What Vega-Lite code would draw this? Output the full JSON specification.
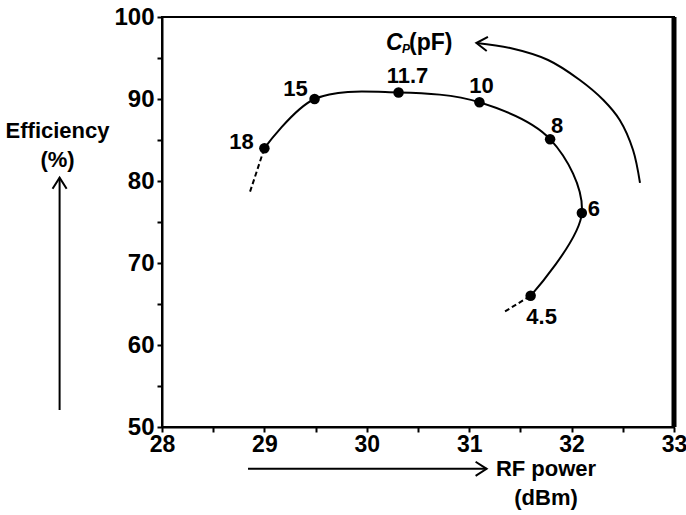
{
  "$schema": "https://vega.github.io/schema/vega-lite/v6.json",
  "width": 512,
  "height": 410,
  "autosize": {"type": "none"},
  "padding": {"left": 162, "top": 17, "right": 12, "bottom": 88},
  "background": "white",
  "config": {
    "view": {"stroke": "black", "strokeWidth": 2},
    "font": "Liberation Sans",
    "axis": {
      "domainColor": "black", "domainWidth": 2, "tickColor": "black", "tickWidth": 2, "tickSize": 5,
      "labelFont": "Liberation Sans", "labelFontWeight": "bold", "labelFontSize": 24, "labelColor": "black",
      "grid": false, "labelOverlap": false, "labelFlush": false
    },
    "text": {"font": "Liberation Sans", "fontWeight": "bold", "fontSize": 22, "color": "black", "baseline": "middle", "align": "center"}
  },
  "datasets": {
    "pts": [
      {"cp": 18, "lab": "18", "ord": 1, "x": 29.0, "y": 84.0},
      {"cp": 15, "lab": "15", "ord": 2, "x": 29.49, "y": 90.0},
      {"cp": 11.7, "lab": "11.7", "ord": 3, "x": 30.31, "y": 90.8},
      {"cp": 10, "lab": "10", "ord": 4, "x": 31.1, "y": 89.6},
      {"cp": 8, "lab": "8", "ord": 5, "x": 31.79, "y": 85.1},
      {"cp": 6, "lab": "6", "ord": 6, "x": 32.1, "y": 76.1},
      {"cp": 4.5, "lab": "4.5", "ord": 7, "x": 31.6, "y": 66.0}
    ],
    "ext": [
      {"seg": "a", "x": 29.0, "y": 84.0},
      {"seg": "a", "x": 28.86, "y": 78.7},
      {"seg": "b", "x": 31.6, "y": 66.0},
      {"seg": "b", "x": 31.35, "y": 64.1}
    ],
    "arc": [
      {"ord": 1, "x": 32.668, "y": 79.76},
      {"ord": 2, "x": 32.6, "y": 83.78},
      {"ord": 3, "x": 32.47, "y": 87.44},
      {"ord": 4, "x": 32.31, "y": 89.88},
      {"ord": 5, "x": 32.08, "y": 92.32},
      {"ord": 6, "x": 31.77, "y": 94.76},
      {"ord": 7, "x": 31.4, "y": 96.22},
      {"ord": 8, "x": 31.07, "y": 96.83}
    ],
    "harrow": [{"x": 28.84, "y": 44.9}, {"x": 31.17, "y": 44.9}],
    "varrow": [{"x": 27.0, "y": 52.07}, {"x": 27.0, "y": 80.4}],
    "notes": [
      {"t": "Efficiency", "x": 26.98, "y": 86.1},
      {"t": "(%)", "x": 26.98, "y": 82.56},
      {"t": "RF power", "x": 31.75, "y": 44.9},
      {"t": "(dBm)", "x": 31.75, "y": 41.3}
    ],
    "cpC": [{"x": 30.1875, "y": 96.83}],
    "cpP": [{"x": 30.344, "y": 96.83}],
    "cppF": [{"x": 30.412, "y": 96.83}],
    "border": [{"x": 33, "y": 50, "y2": 100}]
  },
  "encoding": {
    "x": {"field": "x", "type": "quantitative", "title": null, "scale": {"domain": [28, 33], "nice": false, "zero": false},
      "axis": {"values": [28, 28.5, 29, 29.5, 30, 30.5, 31, 31.5, 32, 32.5, 33], "labelExpr": "datum.value % 1 == 0 ? format(datum.value, 'd') : ''", "labelPadding": 1, "labelFontSize": 23}},
    "y": {"field": "y", "type": "quantitative", "title": null, "scale": {"domain": [50, 100], "nice": false, "zero": false},
      "axis": {"values": [50, 55, 60, 65, 70, 75, 80, 85, 90, 95, 100], "labelExpr": "datum.value % 10 == 0 ? format(datum.value, 'd') : ''", "labelPadding": 3}}
  },
  "layer": [
    {
      "data": {"name": "pts"},
      "mark": {"type": "line", "interpolate": "catmull-rom", "color": "black", "strokeWidth": 2},
      "encoding": {"order": {"field": "ord", "type": "quantitative"}}
    },
    {
      "data": {"name": "ext"},
      "mark": {"type": "line", "color": "black", "strokeWidth": 2, "strokeDash": [5, 3], "clip": false},
      "encoding": {"detail": {"field": "seg"}}
    },
    {
      "data": {"name": "pts"},
      "mark": {"type": "point", "filled": true, "color": "black", "size": 110, "opacity": 1}
    },
    {"data": {"name": "pts"}, "transform": [{"filter": "datum.cp == 18"}], "mark": {"type": "text", "dx": -23, "dy": -6}, "encoding": {"text": {"field": "lab"}}},
    {"data": {"name": "pts"}, "transform": [{"filter": "datum.cp == 15"}], "mark": {"type": "text", "dx": -19, "dy": -10}, "encoding": {"text": {"field": "lab"}}},
    {"data": {"name": "pts"}, "transform": [{"filter": "datum.cp == 11.7"}], "mark": {"type": "text", "dx": 9, "dy": -16}, "encoding": {"text": {"field": "lab"}}},
    {"data": {"name": "pts"}, "transform": [{"filter": "datum.cp == 10"}], "mark": {"type": "text", "dx": 2, "dy": -16}, "encoding": {"text": {"field": "lab"}}},
    {"data": {"name": "pts"}, "transform": [{"filter": "datum.cp == 8"}], "mark": {"type": "text", "dx": 7, "dy": -13}, "encoding": {"text": {"field": "lab"}}},
    {"data": {"name": "pts"}, "transform": [{"filter": "datum.cp == 6"}], "mark": {"type": "text", "dx": 12, "dy": -4}, "encoding": {"text": {"field": "lab"}}},
    {"data": {"name": "pts"}, "transform": [{"filter": "datum.cp == 4.5"}], "mark": {"type": "text", "dx": 11, "dy": 21}, "encoding": {"text": {"field": "lab"}}},
    {
      "data": {"name": "arc"},
      "mark": {"type": "line", "interpolate": "catmull-rom", "color": "black", "strokeWidth": 2},
      "encoding": {"order": {"field": "ord", "type": "quantitative"}}
    },
    {
      "data": {"name": "arc"},
      "transform": [{"filter": "datum.ord == 8"}],
      "mark": {"type": "point", "shape": "M1,-0.64L0,0L1,0.64", "filled": false, "stroke": "black", "strokeWidth": 2, "size": 484, "angle": 5, "opacity": 1}
    },
    {
      "data": {"name": "harrow"},
      "mark": {"type": "line", "color": "black", "strokeWidth": 2, "clip": false}
    },
    {
      "data": {"name": "harrow"},
      "transform": [{"filter": "datum.x > 30"}],
      "mark": {"type": "point", "shape": "M1,-0.64L0,0L1,0.64", "filled": false, "stroke": "black", "strokeWidth": 2, "size": 484, "angle": 180, "opacity": 1, "clip": false}
    },
    {
      "data": {"name": "varrow"},
      "mark": {"type": "line", "color": "black", "strokeWidth": 2, "clip": false}
    },
    {
      "data": {"name": "varrow"},
      "transform": [{"filter": "datum.y > 70"}],
      "mark": {"type": "point", "shape": "M1,-0.64L0,0L1,0.64", "filled": false, "stroke": "black", "strokeWidth": 2, "size": 484, "angle": 90, "opacity": 1, "clip": false}
    },
    {
      "data": {"name": "notes"},
      "mark": {"type": "text", "clip": false, "fontSize": 22},
      "encoding": {"text": {"field": "t"}}
    },
    {
      "data": {"name": "cpC"},
      "mark": {"type": "text", "fontStyle": "italic", "fontSize": 23, "align": "left"},
      "encoding": {"text": {"value": "C"}}
    },
    {
      "data": {"name": "cpP"},
      "mark": {"type": "text", "fontStyle": "italic", "fontSize": 12, "dy": 6, "align": "left"},
      "encoding": {"text": {"value": "P"}}
    },
    {
      "data": {"name": "cppF"},
      "mark": {"type": "text", "fontSize": 23, "align": "left"},
      "encoding": {"text": {"value": "(pF)"}}
    },
    {
      "data": {"name": "border"},
      "mark": {"type": "rule", "color": "black", "strokeWidth": 5},
      "encoding": {"y2": {"field": "y2"}}
    }
  ]
}
